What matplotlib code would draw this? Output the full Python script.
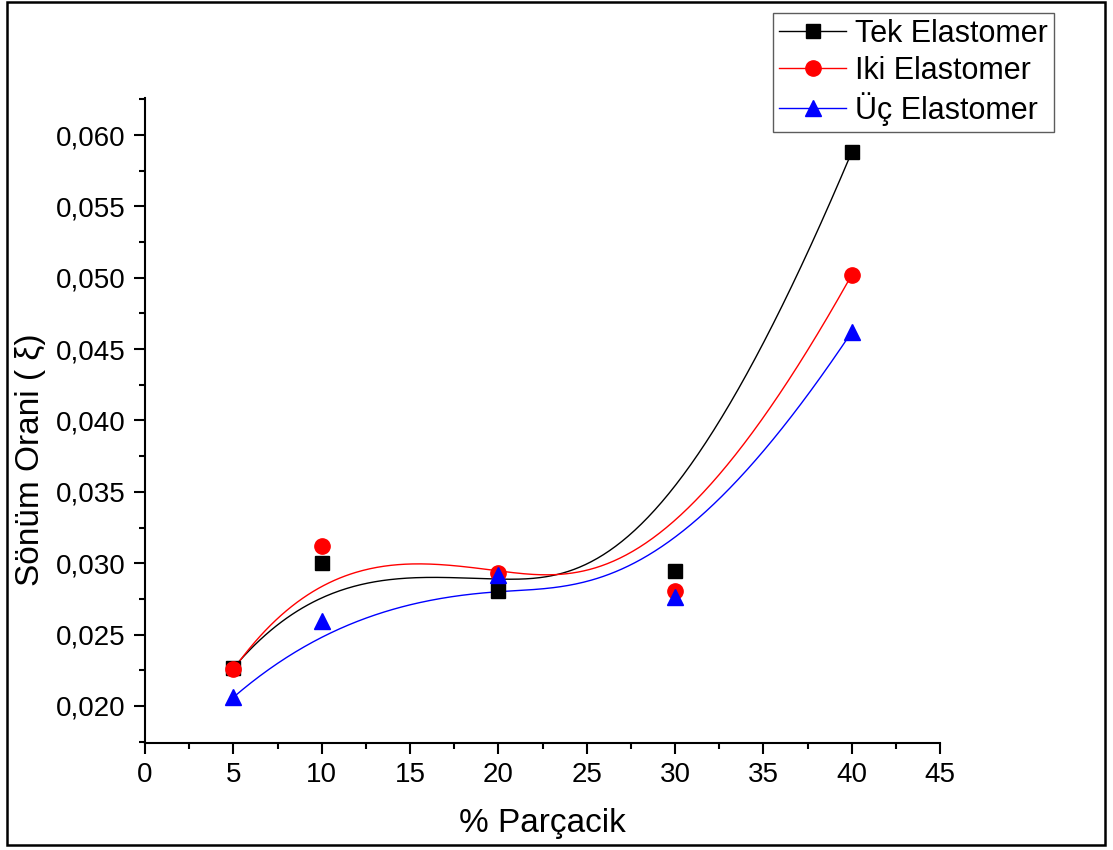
import matplotlib
matplotlib.use('Agg')
import matplotlib.pyplot as plt
from matplotlib.patches import Rectangle
from matplotlib.ticker import MultipleLocator, FuncFormatter
import numpy as np

plt.rcParams['font.family'] = ['Liberation Sans', 'DejaVu Sans']

# data
parcacik = [5, 10, 20, 30, 40]
tek = [0.02265, 0.03000, 0.02805, 0.02945, 0.05880]
iki = [0.02255, 0.03120, 0.02930, 0.02805, 0.05020]
uc = [0.02060, 0.02595, 0.02920, 0.02765, 0.04620]
labels = ['Tek Elastomer', 'Iki Elastomer', 'Üç Elastomer']


def basis(i, k, t, knots):
    # Cox-de Boor recursion
    if k == 0:
        last = knots[i + 1] == knots[-1] and knots[i] < knots[i + 1]
        if last:
            return ((t >= knots[i]) & (t <= knots[i + 1])).astype(float)
        return ((t >= knots[i]) & (t < knots[i + 1])).astype(float)
    out = np.zeros_like(t)
    d1 = knots[i + k] - knots[i]
    if d1 > 0:
        out += (t - knots[i]) / d1 * basis(i, k - 1, t, knots)
    d2 = knots[i + k + 1] - knots[i + 1]
    if d2 > 0:
        out += (knots[i + k + 1] - t) / d2 * basis(i + 1, k - 1, t, knots)
    return out


def bspline(xs, ys, deg=3, n=300):
    # clamped B-spline using the points as control points (like Origin's B-Spline)
    m = len(xs)
    inner = np.linspace(0, 1, m - deg + 1)[1:-1]
    knots = np.concatenate([np.zeros(deg + 1), inner, np.ones(deg + 1)])
    t = np.linspace(0, 1, n)
    bx = np.zeros(n)
    by = np.zeros(n)
    for i in range(m):
        b = basis(i, deg, t, knots)
        bx += b * xs[i]
        by += b * ys[i]
    return bx, by


fig = plt.figure(figsize=(11.13, 8.5), dpi=100)
ax = fig.add_axes([0.1303, 0.1259, 0.7143, 0.7588])

series = [(tek, 'black', 's', 10), (iki, 'red', 'o', 11), (uc, 'blue', '^', 12)]
for (ys, col, mk, ms), lab in zip(series, labels):
    sx, sy = bspline(np.array(parcacik, float), np.array(ys, float))
    ax.plot(sx, sy, color=col, lw=1.0, zorder=2)
    ax.plot(parcacik, ys, ls='none', marker=mk, color=col, ms=ms, zorder=3)
    # legend handle: line through marker
    ax.plot([], [], color=col, lw=1.0, marker=mk, ms=ms, label=lab)

ax.set_xlim(0, 45)
ax.set_ylim(0.0174, 0.0626)
ax.xaxis.set_major_locator(MultipleLocator(5))
ax.xaxis.set_minor_locator(MultipleLocator(2.5))
ax.yaxis.set_major_locator(MultipleLocator(0.005))
ax.yaxis.set_minor_locator(MultipleLocator(0.0025))
ax.yaxis.set_major_formatter(FuncFormatter(lambda v, p: f'{v:.3f}'.replace('.', ',')))

for s in ['top', 'right']:
    ax.spines[s].set_visible(False)
for s in ['left', 'bottom']:
    ax.spines[s].set_linewidth(1.5)
ax.tick_params(which='major', direction='out', length=8, width=1.5, labelsize=20, pad=6)
ax.tick_params(which='minor', direction='out', length=4, width=1.5)

ax.set_xlabel('% Parçacik', fontsize=24, labelpad=14)
ax.set_ylabel('Sönüm Orani ( ξ)', fontsize=24)
ax.yaxis.set_label_coords(-0.125, 0.44)

leg = fig.legend(loc='upper left', bbox_to_anchor=(0.6945, 0.985), fontsize=22,
                 frameon=True, fancybox=False, edgecolor='#333333',
                 handlelength=2.2, handletextpad=0.3, borderpad=0.2,
                 labelspacing=0.22, borderaxespad=0)
leg.get_frame().set_linewidth(1.0)

# outer frame around the whole picture
fig.patches.append(Rectangle((7 / 1113, 5 / 850), 1098 / 1113, 843 / 850,
                             transform=fig.transFigure, fill=False,
                             edgecolor='black', lw=1.8))

fig.savefig('out.png', dpi=100)
